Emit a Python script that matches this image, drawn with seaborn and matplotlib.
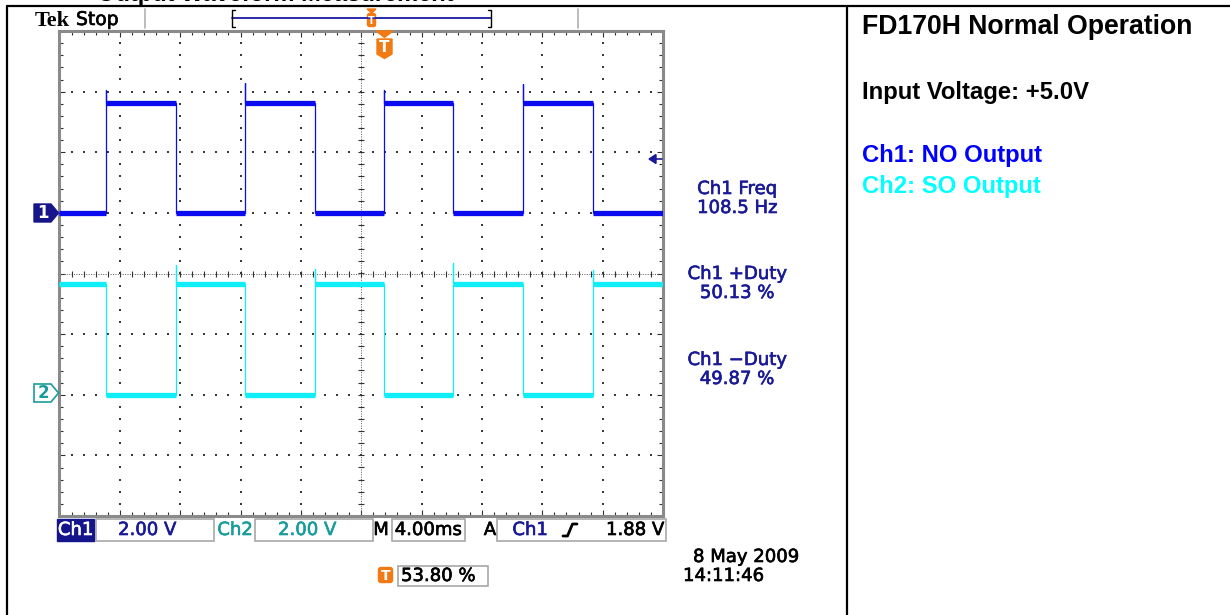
import numpy as np
import pandas as pd
import seaborn as sns
import matplotlib.pyplot as plt
import matplotlib.patheffects as pe
from matplotlib.patches import Polygon, Rectangle, FancyBboxPatch
from matplotlib.ticker import MultipleLocator

sns.set_theme(style="white")
plt.rcParams['font.family'] = ['DejaVu Sans']

# --- values read from the screen capture ---
# time in ms (4 ms/div, 10 div), levels in volts (2 V/div)
ch1_rise_ms = [3.05, 12.27, 21.49, 30.71]
ch1_fall_ms = [7.69, 16.92, 26.07, 35.36]
ch1_spike_v = [4.05, 4.30, 4.05, 4.26]
ch1_high_v = 3.62
ch1_low_v = 0.0
ch1_offset_div = 1.0

ch2_fall_ms = [3.05, 12.27, 21.49, 30.71]
ch2_rise_ms = [7.69, 16.92, 26.07, 35.36]
ch2_spike_v = [4.28, 4.15, 4.35, 4.10]
ch2_high_v = 3.66
ch2_low_v = 0.0
ch2_offset_div = -2.0

volts_per_div = 2.0
ms_per_div = 4.0

measure_labels = ["Ch1 Freq", "Ch1 +Duty", "Ch1 \u2212Duty"]
measure_values = ["108.5 Hz", "50.13 %", "49.87 %"]

NAVY = '#1a1a96'
TEAL = '#1a9c9c'
ORANGE = '#f27a12'
CH1_COL = '#0b0bf0'
CH2_COL = '#10eef8'


def build_wave(rises, falls, spikes, hi, lo, start_hi):
    # step points of the trace plus its flat segments
    edges = sorted([(t, 'r') for t in rises] + [(t, 'f') for t in falls])
    spike_iter = iter(spikes)
    level = hi if start_hi else lo
    xs, ys = [0.0], [level]
    flats = []
    seg_start = 0.0
    for t, kind in edges:
        flats.append((level, seg_start, t))
        if kind == 'r':
            xs += [t, t, t]
            ys += [lo, next(spike_iter), hi]
            level = hi
        else:
            xs += [t, t]
            ys += [hi, lo]
            level = lo
        seg_start = t
    flats.append((level, seg_start, 40.0))
    xs.append(40.0)
    ys.append(level)
    return np.array(xs), np.array(ys), flats


def scope_text(x, y, s, color, **kw):
    # Tek screen font looks a bit heavier than DejaVu regular
    t = ov.text(x, y, s, fontsize=kw.pop('fontsize', 13), color=color, **kw)
    t.set_path_effects([pe.withStroke(linewidth=0.45, foreground=color)])
    return t


fig = plt.figure(figsize=(12.3, 6.15), dpi=100)

# scope graticule axes
ax = fig.add_axes([59.5 / 1230, (615 - 516) / 615, 603.5 / 1230, 485 / 615])
ax.set_xlim(0, 10 * ms_per_div)
ax.set_ylim(-4, 4)
ax.set_facecolor('white')
ax.xaxis.set_major_locator(MultipleLocator(ms_per_div))
ax.xaxis.set_minor_locator(MultipleLocator(ms_per_div / 5))
ax.yaxis.set_major_locator(MultipleLocator(1))
ax.yaxis.set_minor_locator(MultipleLocator(0.2))
ax.tick_params(which='both', direction='in', top=True, right=True, bottom=True, left=True,
               labelbottom=False, labelleft=False, color='#303030', width=0.8)
ax.tick_params(which='major', length=4)
ax.tick_params(which='minor', length=3)
for sp in ax.spines.values():
    sp.set_color('#8a8a8a')
    sp.set_linewidth(2.2)

# dotted graticule
minor_y = np.arange(-4, 4.001, 0.2)[1:-1]
minor_x = np.arange(0, 40.001, 0.8)[1:-1]
for k in range(1, 10):
    if k == 5:
        continue
    ax.scatter(np.full(len(minor_y), k * ms_per_div), minor_y, s=1.6, marker='s',
               color='#3a3a3a', linewidths=0, zorder=1)
for j in range(-3, 4):
    if j == 0:
        continue
    ax.scatter(minor_x, np.full(len(minor_x), j), s=1.6, marker='s',
               color='#3a3a3a', linewidths=0, zorder=1)
ax.axvline(20, color='#555555', lw=0.7, ls=(0, (1, 1.5)), zorder=1)
ax.axhline(0, color='#555555', lw=0.7, ls=(0, (1, 1.5)), zorder=1)
ax.plot(np.full(len(minor_y), 20), minor_y, ls='none', marker='_', ms=5, mew=0.8,
        color='#333333', zorder=1)
ax.plot(minor_x, np.zeros(len(minor_x)), ls='none', marker='|', ms=5, mew=0.8,
        color='#333333', zorder=1)

# traces
for rises, falls, spikes, hi, lo, off, col, start_hi in [
        (ch1_rise_ms, ch1_fall_ms, ch1_spike_v, ch1_high_v, ch1_low_v, ch1_offset_div, CH1_COL, False),
        (ch2_rise_ms, ch2_fall_ms, ch2_spike_v, ch2_high_v, ch2_low_v, ch2_offset_div, CH2_COL, True)]:
    xs, ys, flats = build_wave(rises, falls, spikes, hi, lo, start_hi)
    wave = pd.DataFrame({'t': xs, 'div': ys / volts_per_div + off})
    sns.lineplot(data=wave, x='t', y='div', sort=False, estimator=None, ax=ax,
                 color=col, lw=0.9, zorder=3)
    for lev, a, b in flats:
        ax.hlines(lev / volts_per_div + off, a, b, color=col, lw=3.8, zorder=3)
ax.set_xlabel('')
ax.set_ylabel('')

# overlay in pixel coordinates for the screen furniture
ov = fig.add_axes([0, 0, 1, 1])
ov.set_xlim(0, 1230)
ov.set_ylim(615, 0)
ov.axis('off')
ov.patch.set_alpha(0)

# document table lines and clipped heading
ov.plot([7, 1230], [6, 6], color='black', lw=1.6)
ov.plot([7, 7], [6, 615], color='black', lw=1.6)
ov.plot([847, 847], [6, 615], color='black', lw=1.6)
ov.text(97, 0.6, "Output Waveform Measurement", fontsize=17, fontweight='bold',
        family=['Liberation Sans'], va='baseline', ha='left', color='black')

# top status line
ov.text(35, 26, "Tek", fontsize=16, fontweight='bold', family=['Liberation Serif'],
        va='baseline', ha='left', color='black')
scope_text(76, 25, "Stop", 'black', fontsize=13.5, va='baseline', ha='left')
for xs_ in (145, 578):
    ov.plot([xs_, xs_], [9, 28], color='#b0b0b0', lw=1.2)
ov.plot([232, 491], [18, 18], color='#2a2aa8', lw=1.4)
ov.plot([235, 232, 232, 235], [10, 10, 27, 27], color='black', lw=1)
ov.plot([488, 491, 491, 488], [10, 10, 27, 27], color='black', lw=1)
ov.add_patch(Polygon([(367, 9), (376, 9), (371.5, 13)], closed=True, color=ORANGE))
ov.add_patch(FancyBboxPatch((367.5, 13.5), 8, 13, boxstyle='round,pad=0,rounding_size=2',
                            color=ORANGE))
ov.text(371.5, 20.5, "T", fontsize=7, fontweight='bold', color='white', ha='center', va='center')

# trigger position marker
ov.add_patch(Polygon([(376, 31), (393, 31), (384.5, 37.5)], closed=True, color=ORANGE))
ov.add_patch(Polygon([(377, 39), (392, 39), (392, 54), (384.5, 58.5), (377, 54)],
                     closed=True, color=ORANGE))
ov.text(384.5, 47.5, "T", fontsize=11, fontweight='bold', color='white', ha='center', va='center')

# channel ground markers
ov.add_patch(Polygon([(34, 204), (51, 204), (58.5, 213), (51, 222), (34, 222)], closed=True,
                     color='#16168a'))
ov.text(43, 213.5, "1", fontsize=12, fontweight='bold', color='white', ha='center', va='center')
ov.add_patch(Polygon([(34, 384), (51, 384), (58.5, 393), (51, 402), (34, 402)], closed=True,
                     facecolor='white', edgecolor=TEAL, lw=1.2))
ov.text(43, 393.5, "2", fontsize=12, fontweight='bold', color=TEAL, ha='center', va='center')

# trigger level arrow
ov.add_patch(Polygon([(649, 159), (656, 154.5), (656, 163.5)], closed=True, color=NAVY))
ov.plot([655, 662], [159, 159], color=NAVY, lw=1.2)

# measurements
meas_y = [(189, 208), (274, 293), (360, 379)]
for lab, val, (y1, y2) in zip(measure_labels, measure_values, meas_y):
    scope_text(737, y1, lab, NAVY, ha='center', va='center')
    scope_text(737, y2, val, NAVY, ha='center', va='center')

# bottom status bar
ov.add_patch(Rectangle((57, 519), 37, 22, color='#14148c'))
scope_text(75.5, 530, "Ch1", 'white', ha='center', va='center')
for x0, x1 in [(96, 214), (255, 373), (392, 465), (497, 666)]:
    ov.add_patch(Rectangle((x0, 519), x1 - x0, 22, facecolor='white', edgecolor='#a8a8a8', lw=1.2))
scope_text(147, 530, "2.00 V", NAVY, ha='center', va='center')
scope_text(235, 530, "Ch2", TEAL, ha='center', va='center')
scope_text(307, 530, "2.00 V", TEAL, ha='center', va='center')
scope_text(381, 530, "M", 'black', ha='center', va='center')
scope_text(428, 530, "4.00ms", 'black', ha='center', va='center')
scope_text(490, 530, "A", 'black', ha='center', va='center')
scope_text(530, 530, "Ch1", NAVY, ha='center', va='center')
ov.plot([563, 567.5, 572.5, 577], [536, 536, 524, 524], color='black', lw=2)
scope_text(664, 530, "1.88 V", 'black', ha='right', va='center')

ov.add_patch(FancyBboxPatch((378.5, 567.5), 14, 15, boxstyle='round,pad=0,rounding_size=2.5',
                            color=ORANGE))
ov.text(385.5, 575.5, "T", fontsize=10, fontweight='bold', color='white', ha='center', va='center')
ov.add_patch(Rectangle((398, 566), 90, 20, facecolor='white', edgecolor='#a8a8a8', lw=1.2))
scope_text(401, 576, "53.80 %", 'black', ha='left', va='center')

scope_text(693, 557, "8 May 2009", 'black', ha='left', va='center')
scope_text(683, 576, "14:11:46", 'black', ha='left', va='center')

# right-hand description cell
side_font = ['Liberation Sans']
ov.text(862, 34, "FD170H Normal Operation", fontsize=19.2, fontweight='bold',
        family=side_font, color='black', va='baseline')
ov.text(862, 99, "Input Voltage: +5.0V", fontsize=17.2, fontweight='bold',
        family=side_font, color='black', va='baseline')
ov.text(862, 162, "Ch1: NO Output", fontsize=17.2, fontweight='bold',
        family=side_font, color='#0000ff', va='baseline')
ov.text(862, 193, "Ch2: SO Output", fontsize=17.2, fontweight='bold',
        family=side_font, color='#00ffff', va='baseline')

fig.savefig('out.png', dpi=100, facecolor='white')
